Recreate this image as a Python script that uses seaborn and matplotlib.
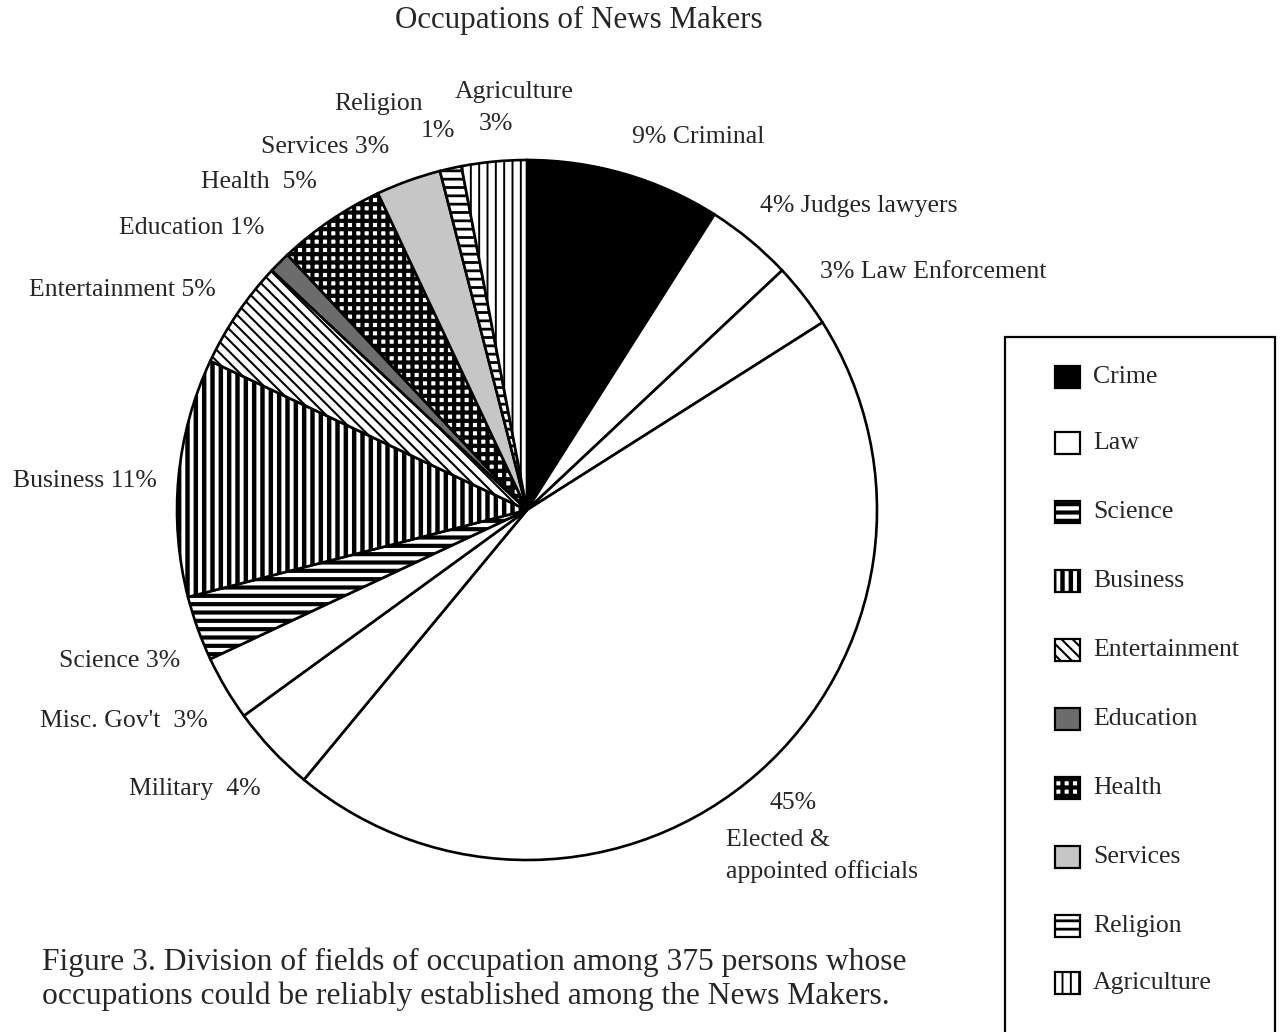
import matplotlib
matplotlib.use("Agg")
from matplotlib import pyplot as plt
from matplotlib.patches import Rectangle
import seaborn as sns

# slices, clockwise from 12 o'clock
slice_names = ["Criminal", "Judges lawyers", "Law Enforcement", "Elected & appointed officials",
               "Military", "Misc. Gov't", "Science", "Business", "Entertainment", "Education",
               "Health", "Services", "Religion", "Agriculture"]
slice_pcts = [9, 4, 3, 45, 4, 3, 3, 11, 5, 1, 5, 3, 1, 3]
slice_fields = ["Crime", "Law", "Law", "Law", "Law", "Law", "Science", "Business",
                "Entertainment", "Education", "Health", "Services", "Religion", "Agriculture"]
legend_fields = ["Crime", "Law", "Science", "Business", "Entertainment", "Education",
                 "Health", "Services", "Religion", "Agriculture"]

# label text for each slice
slice_texts = ["9% Criminal", "4% Judges lawyers", "3% Law Enforcement",
               "Elected &\nappointed officials", "Military  4%", "Misc. Gov't  3%",
               "Science 3%", "Business 11%", "Entertainment 5%", "Education 1%",
               "Health  5%", "Services 3%", "Religion", "Agriculture"]
extra_texts = ["45%", "1%", "3%"]

# fill style per field: facecolor, hatch, hatch linewidth
styles = {
    "Crime": ("black", None, 1.0),
    "Law": ("white", None, 1.0),
    "Science": ("white", "--", 3.0),
    "Business": ("white", "||", 3.2),
    "Entertainment": ("white", "\\\\\\", 1.5),
    "Education": ("#6c6c6c", None, 1.0),
    "Health": ("white", "++", 3.0),
    "Services": ("#c6c6c6", None, 1.0),
    "Religion": ("white", "--", 2.0),
    "Agriculture": ("white", "||", 1.4),
}

W, H = 1280, 1032
sns.set_theme(style="white")
plt.rcParams["font.family"] = ["Liberation Serif", "DejaVu Serif"]


def apply_style(p, field):
    fc, hatch, hlw = styles[field]
    p.set_facecolor(fc)
    p.set_edgecolor("black")
    if hatch:
        p.set_hatch(hatch)
        if hasattr(p, "set_hatch_linewidth"):
            p.set_hatch_linewidth(hlw)


fig = plt.figure(figsize=(W / 100, H / 100), dpi=100)
fig.patch.set_facecolor("white")
ax = fig.add_axes([0, 0, 1, 1])

wedges, _ = ax.pie(slice_pcts, center=(527, H - 510), radius=350, startangle=90,
                   counterclock=False, wedgeprops=dict(linewidth=1.9, edgecolor="black"))
for w, f in zip(wedges, slice_fields):
    apply_style(w, f)

ax.set_xlim(0, W)
ax.set_ylim(0, H)
ax.set_aspect("equal")
ax.axis("off")

# label positions (reference pixels, y from top)
label_pos = [(632, 137, "left"), (760, 206, "left"), (820, 272, "left"),
             (726, 856, "left"), (261, 789, "right"), (208, 721, "right"),
             (180, 661, "right"), (157, 481, "right"), (216, 290, "right"),
             (264, 228, "right"), (317, 182, "right"), (389, 147, "right"),
             (334, 104, "left"), (455, 92, "left")]
extra_pos = [(793, 803), (438, 131), (496, 124)]
for txt, (x, y, ha) in zip(slice_texts, label_pos):
    ls = 1.45 if "\n" in txt else 1.25
    ax.text(x, H - y, txt, ha=ha, va="center", fontsize=18.5, linespacing=ls)
for txt, (x, y) in zip(extra_texts, extra_pos):
    ax.text(x, H - y, txt, ha="center", va="center", fontsize=18.5)

ax.text(579, H - 20, "Occupations of News Makers", ha="center", va="center", fontsize=22.3)

ax.text(42, H - 979, "Figure 3. Division of fields of occupation among 375 persons whose\n"
        "occupations could be reliably established among the News Makers.",
        ha="left", va="center", fontsize=22.7, linespacing=1.2)

# legend box
ax.add_patch(Rectangle((1005, H - 1045), 270, 708, facecolor="white",
                       edgecolor="black", linewidth=1.6))
legend_y = [377, 443, 512, 581, 650, 719, 788, 857, 926, 983]
for f, y in zip(legend_fields, legend_y):
    r = Rectangle((1055, H - y - 11), 25, 22, linewidth=1.6)
    ax.add_patch(r)
    apply_style(r, f)
    ax.text(1093, H - y, f, ha="left", va="center", fontsize=18.5)

fig.savefig("out.png", dpi=100, facecolor="white")
